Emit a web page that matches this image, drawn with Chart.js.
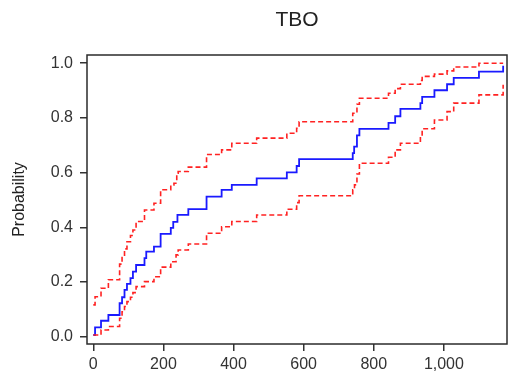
<!DOCTYPE html>
<html>
<head>
<meta charset="utf-8">
<script src="https://cdn.jsdelivr.net/npm/chart.js@4/dist/chart.umd.min.js"></script>
<style>
  html, body { margin: 0; padding: 0; background: #fff; }
  #wrap { width: 509px; height: 372px; }
</style>
</head>
<body>
<div id="wrap"><canvas id="c" width="509" height="372"></canvas></div>
<script>
// Event times (x) and step values
const estTimes = [0,5,22,43,75,82,89,96,106,113,122,146,151,173,192,221,228,240,271,323,366,395,466,552,580,587,740,744,752,759,842,861,876,933,938,973,1009,1028,1100,1169];
const estValues = [0.006,0.034,0.058,0.079,0.122,0.144,0.171,0.193,0.214,0.238,0.262,0.287,0.311,0.329,0.376,0.398,0.420,0.445,0.466,0.512,0.537,0.555,0.579,0.601,0.624,0.649,0.671,0.695,0.736,0.760,0.782,0.806,0.833,0.854,0.877,0.901,0.923,0.946,0.969,0.991];

const upperTimes = [0,5,22,43,75,82,89,96,106,113,122,146,173,192,221,230,238,242,271,323,366,395,466,552,580,587,740,752,759,842,861,876,933,938,973,1009,1028,1100,1169];
const upperValues = [0.116,0.146,0.177,0.208,0.265,0.293,0.321,0.347,0.370,0.390,0.421,0.463,0.488,0.537,0.555,0.561,0.598,0.604,0.620,0.666,0.683,0.707,0.726,0.744,0.762,0.786,0.817,0.850,0.872,0.890,0.907,0.923,0.937,0.952,0.960,0.972,0.986,1.000,1.000];

const lowerTimes = [0,22,43,75,82,89,96,106,113,122,146,173,192,221,236,242,271,323,366,395,466,552,580,587,740,745,752,759,842,861,876,933,938,973,1009,1028,1100,1169];
const lowerValues = [0.006,0.024,0.037,0.067,0.091,0.110,0.128,0.144,0.161,0.183,0.201,0.219,0.254,0.274,0.299,0.317,0.339,0.378,0.402,0.421,0.445,0.466,0.490,0.515,0.537,0.555,0.595,0.634,0.656,0.683,0.707,0.731,0.760,0.792,0.823,0.854,0.884,0.921];

const xTicks = [0,200,400,600,800,1000];
const yTicks = [0.0,0.2,0.4,0.6,0.8,1.0];

const titleText = 'TBO';
const yTitle = 'Probability';

function pts(xs, ys) { return xs.map((x, i) => ({x: x, y: ys[i]})); }

const FONT = "'Liberation Sans', Arial, sans-serif";

const frame = {
  id: 'frame',
  afterLayout(chart) {
    // centre the title over the plotting area
    const t = chart.titleBlock, a = chart.chartArea;
    if (t) { t.left = a.left; t.right = a.right; t.width = a.right - a.left; }
  },
  afterDatasetsDraw(chart) {
    const a = chart.chartArea, ctx = chart.ctx;
    ctx.save();
    ctx.strokeStyle = '#2b2b2b';
    ctx.lineWidth = 1.5;
    ctx.strokeRect(a.left, a.top, a.right - a.left, a.bottom - a.top);
    ctx.restore();
  }
};

new Chart(document.getElementById('c'), {
  type: 'line',
  data: {
    datasets: [
      { label: 'Lower', data: pts(lowerTimes, lowerValues), borderColor: '#ff2222', borderWidth: 1.6, borderDash: [5, 3], stepped: true, pointRadius: 0, fill: false },
      { label: 'Upper', data: pts(upperTimes, upperValues), borderColor: '#ff2222', borderWidth: 1.6, borderDash: [5, 3], stepped: true, pointRadius: 0, fill: false },
      { label: 'Estimate', data: pts(estTimes, estValues), borderColor: '#1a1aff', borderWidth: 1.8, stepped: true, pointRadius: 0, fill: false }
    ]
  },
  options: {
    responsive: false,
    animation: false,
    layout: { padding: { left: 0, right: 2, top: 0, bottom: 0 } },
    plugins: {
      legend: { display: false },
      tooltip: { enabled: false },
      title: {
        display: true, text: titleText, color: '#222',
        font: { family: FONT, size: 21, weight: 'normal' },
        padding: { top: 8, bottom: 21.8 }
      }
    },
    scales: {
      x: {
        type: 'linear', min: -18, max: 1180,
        afterBuildTicks(s) { s.ticks = xTicks.map(v => ({value: v})); },
        afterFit(s) { s.height = 28; },
        border: { display: false },
        grid: { drawOnChartArea: false, drawTicks: true, tickLength: 7, color: '#333', lineWidth: 1.5 },
        ticks: {
          color: '#333', padding: 4,
          font: { family: FONT, size: 16 },
          callback: v => v.toLocaleString('en-US')
        }
      },
      y: {
        type: 'linear', min: -0.027, max: 1.03,
        afterBuildTicks(s) { s.ticks = yTicks.map(v => ({value: v})); },
        afterFit(s) { s.width = 87; },
        border: { display: false },
        grid: { drawOnChartArea: false, drawTicks: true, tickLength: 7, color: '#333', lineWidth: 1.5 },
        ticks: {
          color: '#333', padding: 7,
          font: { family: FONT, size: 16 },
          callback: v => Number(v).toFixed(1)
        },
        title: {
          display: true, text: yTitle, color: '#222',
          font: { family: FONT, size: 16 },
          padding: { top: 10.4, bottom: 0 }
        }
      }
    }
  },
  plugins: [frame]
});
</script>
</body>
</html>
